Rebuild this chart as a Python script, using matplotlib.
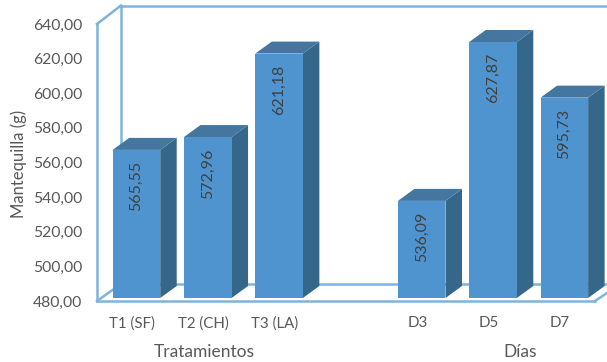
import matplotlib
matplotlib.use('Agg')
import matplotlib.pyplot as plt
import numpy as np
from matplotlib.lines import Line2D
from matplotlib.patches import Polygon
from matplotlib.transforms import Affine2D, offset_copy

CATEGORIES = ['T1 (SF)', 'T2 (CH)', 'T3 (LA)', 'D3', 'D5', 'D7']
POSITIONS = [0, 1, 2, 4, 5, 6]
VALUES = [565.55, 572.96, 621.18, 536.09, 627.87, 595.73]
Y_TICKS = [480, 500, 520, 540, 560, 580, 600, 620, 640]
GROUPS = ['Tratamientos', 'Días']

W, H = 607, 362
FRONT = '#4f94cf'
SIDE = '#35678a'
TOP = '#44769f'
FRAME = '#7fb3df'
TEXT = '#595959'
BAR_W = 0.667
DEPTH_X = 16.5 / 71.3  # depth of the boxes in x units
DEPTH_Y = 12 / 1.731  # depth of the boxes in y units

plt.rcParams['font.family'] = ['Lato', 'DejaVu Sans']

fig = plt.figure(figsize=(W / 100, H / 100), dpi=100)
ax = fig.add_axes([97 / W, 1 - 301 / H, 498 / W, 277 / H])
ax.set_xlim(-0.553, 6.43)
ax.set_ylim(480, 640)
ax.patch.set_visible(False)
for spine in ax.spines.values():
    spine.set_visible(False)

# pixel coordinates, origin top left, for the box walls and free labels
px = Affine2D().scale(1, -1).translate(0, H)

walls = [
    ([97, 97], [24, 301]), ([97, 121], [24, 5.5]), ([121, 121], [5.5, 284]),
    ([121, 607], [5.5, 5.5]), ([97, 595], [301, 301]), ([97, 121], [301, 284]),
    ([121, 607], [284, 284]), ([595, 607], [301, 293]),
]
for xs, ys in walls:
    fig.add_artist(Line2D(xs, ys, transform=px, color=FRAME, lw=1.8, zorder=0))

# boxes stand slightly behind the front edge of the floor
lifted = offset_copy(ax.transData, fig=fig, y=3, units='dots')
for p, v in zip(POSITIONS, VALUES):
    l, r = p - BAR_W / 2, p + BAR_W / 2
    side = [(r, 480), (r + DEPTH_X, 480 + DEPTH_Y), (r + DEPTH_X, v + DEPTH_Y), (r, v)]
    top = [(l, v), (r, v), (r + DEPTH_X, v + DEPTH_Y), (l + DEPTH_X, v + DEPTH_Y)]
    ax.add_patch(Polygon(side, color=SIDE, lw=0, transform=lifted, clip_on=False, zorder=2))
    ax.add_patch(Polygon(top, color=TOP, lw=0, transform=lifted, clip_on=False, zorder=2))
    ax.annotate(f'{v:.2f}'.replace('.', ','), xy=(p, v), xycoords=lifted,
                xytext=(0, -8), textcoords='offset points', rotation=90,
                ha='center', va='top', fontsize=11.5, color='#404040', zorder=4)

ax.bar(POSITIONS, np.array(VALUES) - 480, bottom=480, width=BAR_W, color=FRONT,
       transform=lifted, clip_on=False, zorder=3)
ax.set_xlim(-0.553, 6.43)
ax.set_ylim(480, 640)

ax.set_yticks(Y_TICKS, [f'{t},00' for t in Y_TICKS])
ax.set_xticks(np.array(POSITIONS) - 0.06, CATEGORIES)
ax.tick_params(axis='y', length=0, pad=10.5, labelsize=11.3, labelcolor=TEXT)
ax.tick_params(axis='x', length=0, pad=11, labelsize=10.8, labelcolor=TEXT)

fig.text(19, 164, 'Mantequilla (g)', transform=px, rotation=90, ha='center',
         va='center', fontsize=12, color=TEXT)
fig.text(204, 352, GROUPS[0], transform=px, ha='center', va='center',
         fontsize=12.5, color=TEXT)
fig.text(520.5, 352, GROUPS[1], transform=px, ha='center', va='center',
         fontsize=12.5, color=TEXT)

fig.savefig('out.png', dpi=100)
